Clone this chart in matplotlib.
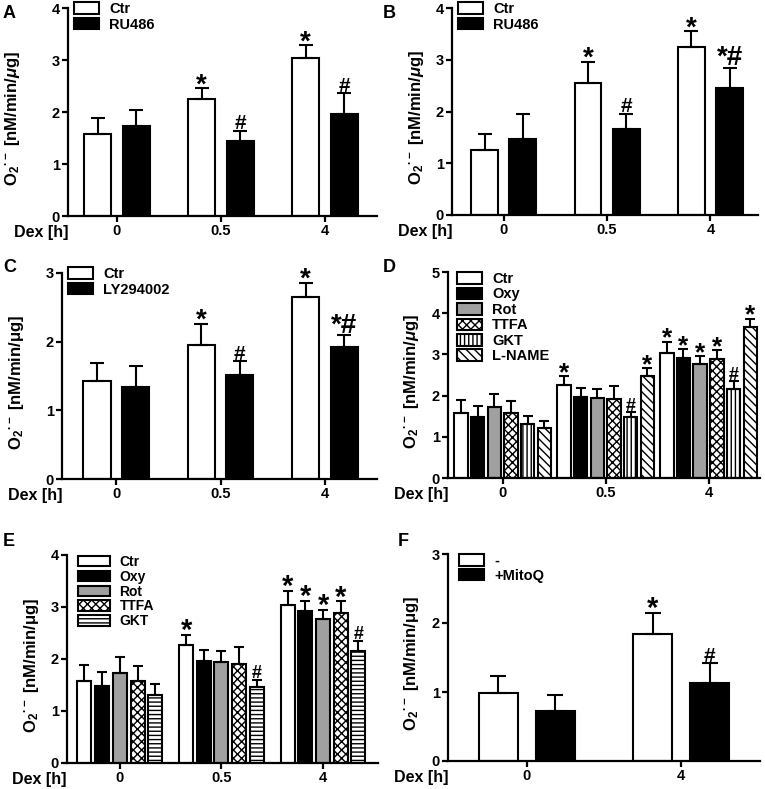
"""Superoxide production (O2.-) after Dex, six panels A-F."""
import matplotlib
matplotlib.use("Agg")
import matplotlib.pyplot as plt
from matplotlib.patches import Patch
import numpy as np

plt.rcParams.update({
    "font.family": "Liberation Sans", "font.weight": "bold", "font.size": 10,
    "axes.labelweight": "bold", "axes.linewidth": 1.6,
    "mathtext.fontset": "custom", "mathtext.rm": "Liberation Sans:bold",
    "mathtext.it": "Liberation Sans:bold:italic", "mathtext.bf": "Liberation Sans:bold",
    "hatch.linewidth": 1.0, "hatch.color": "black",
})

W, H = 765, 789
dex = ["0", "0.5", "4"]
dex_f = ["0", "4"]

# A: Ctr vs RU486
a_ctr = [1.57, 2.25, 3.03]
a_ctr_sem = [0.31, 0.21, 0.25]
a_ru = [1.73, 1.45, 1.96]
a_ru_sem = [0.30, 0.19, 0.40]
a_marks = [["", "*", "*"], ["", "#", "#"]]

# B: Ctr vs RU486
b_ctr = [1.25, 2.55, 3.24]
b_ctr_sem = [0.31, 0.41, 0.31]
b_ru = [1.46, 1.66, 2.45]
b_ru_sem = [0.50, 0.30, 0.40]
b_marks = [["", "*", "*"], ["", "#", "*#"]]

# C: Ctr vs LY294002
c_ctr = [1.43, 1.95, 2.65]
c_ctr_sem = [0.26, 0.31, 0.21]
c_ly = [1.34, 1.52, 1.92]
c_ly_sem = [0.30, 0.20, 0.18]
c_marks = [["", "*", "*"], ["", "#", "*#"]]

# D/E: inhibitors (E shows the same data without L-NAME)
d_names = ["Ctr", "Oxy", "Rot", "TTFA", "GKT", "L-NAME"]
d_mean = [[1.58, 2.26, 3.04],
          [1.48, 1.97, 2.92],
          [1.73, 1.94, 2.77],
          [1.58, 1.91, 2.89],
          [1.30, 1.47, 2.16],
          [1.22, 2.47, 3.67]]
d_sem = [[0.31, 0.21, 0.27],
         [0.27, 0.21, 0.20],
         [0.30, 0.21, 0.18],
         [0.29, 0.32, 0.22],
         [0.21, 0.13, 0.19],
         [0.17, 0.20, 0.20]]
d_marks = [["", "*", "*"], ["", "", "*"], ["", "", "*"], ["", "", "*"],
           ["", "#", "#"], ["", "*", "*"]]
e_names = d_names[:5]

# F: MitoQ
f_ctr = [0.99, 1.84]
f_ctr_sem = [0.24, 0.31]
f_mito = [0.72, 1.13]
f_mito_sem = [0.23, 0.29]
f_marks = [["", "*"], ["", "#"]]

fig = plt.figure(figsize=(W / 100, H / 100), dpi=100)


def make_ax(l, r, t, b):
    return fig.add_axes([l / W, 1 - b / H, (r - l) / W, (b - t) / H])


STYLE = {"Ctr": ("white", ""), "RU486": ("black", ""), "LY294002": ("black", ""),
         "Oxy": ("black", ""), "Rot": ("#a0a0a0", ""), "TTFA": ("white", "xxxx"),
         "GKT": ("white", "||||"), "GKT_E": ("white", "----"),
         "L-NAME": ("white", "\\\\\\\\"), "-": ("white", ""), "+MitoQ": ("black", "")}


def panel(ax, series, styles, labels, width, step, ticks, ymax, xlim, ylab, lab_x,
          capsize=5, star=20, hsize=15, leg_kw=None):
    n = len(series)
    x = np.arange(len(ticks))
    for i, (m, s, mk) in enumerate(series):
        off = (i - (n - 1) / 2) * step
        fc, hatch = STYLE[styles[i]]
        ax.bar(x + off, m, width, color=fc, edgecolor="black", linewidth=1.5,
               hatch=hatch, zorder=2)
        ax.errorbar(x + off, m, yerr=[np.zeros(len(m)), s], fmt="none", ecolor="black",
                    elinewidth=1.5, capsize=capsize, capthick=1.5, zorder=3)
        for xi, mi, si, t in zip(x + off, m, s, mk):
            if not t:
                continue
            if t == "#":
                fs, dy = hsize, 1
            elif t == "*":
                fs, dy = star, -3
            else:
                fs, dy = star, 1.5
            ax.annotate(t, (xi, mi + si), xytext=(0, dy), textcoords="offset points",
                        ha="center", va="baseline", fontsize=fs, fontweight="bold")
    ax.set_xlim(*xlim)
    ax.set_ylim(0, ymax)
    ax.set_yticks(range(ymax + 1))
    ax.set_xticks(x, ticks)
    ax.tick_params(direction="out", length=4, width=1.6, labelsize=10.5, pad=2)
    ax.spines[["top", "right"]].set_visible(False)
    ax.set_ylabel(ylab, fontsize=12)
    ax.yaxis.set_label_coords(lab_x, 0.47)
    ax.annotate("Dex [h]", (0, 0), xycoords="axes fraction", xytext=(0, -12),
                textcoords="offset points", ha="right", va="center", fontsize=11.5)
    handles = [Patch(facecolor=STYLE[s][0], hatch=STYLE[s][1], edgecolor="black",
                     linewidth=1.5) for s in styles]
    kw = dict(loc="upper left", bbox_to_anchor=(0.02, 1.03), frameon=False,
              handlelength=1.7, handleheight=0.85, handletextpad=0.7,
              labelspacing=0.12, borderaxespad=0, borderpad=0, fontsize=10.5)
    if leg_kw:
        kw.update(leg_kw)
    ax.legend(handles, labels, **kw)


ylab_it = r"O$_2$$^{·-}$ [nM/min/$\mu$g]"
ylab_up = r"O$_2$$^{·-}$ [nM/min/μg]"

axA = make_ax(68, 377, 8, 216)
panel(axA, [(a_ctr, a_ctr_sem, a_marks[0]), (a_ru, a_ru_sem, a_marks[1])],
      ["Ctr", "RU486"], ["Ctr", "RU486"], 0.26, 0.37, dex, 4, (-0.47, 2.5),
      ylab_it, -0.15)

axB = make_ax(452, 758, 8, 215)
panel(axB, [(b_ctr, b_ctr_sem, b_marks[0]), (b_ru, b_ru_sem, b_marks[1])],
      ["Ctr", "RU486"], ["Ctr", "RU486"], 0.26, 0.37, dex, 4, (-0.5, 2.46),
      ylab_it, -0.085)

axC = make_ax(62, 377, 273, 479)
panel(axC, [(c_ctr, c_ctr_sem, c_marks[0]), (c_ly, c_ly_sem, c_marks[1])],
      ["Ctr", "LY294002"], ["Ctr", "LY294002"], 0.26, 0.37, dex, 3, (-0.52, 2.5),
      ylab_up, -0.115)

axD = make_ax(448, 760, 272, 478)
panel(axD, [(d_mean[i], d_sem[i], d_marks[i]) for i in range(6)],
      d_names, d_names, 0.13, 0.162, dex, 5, (-0.53, 2.5), ylab_it, -0.085,
      capsize=3.5, star=19, hsize=13,
      leg_kw=dict(bbox_to_anchor=(0.03, 1.0), labelspacing=0.1))

axE = make_ax(67, 378, 555, 763)
panel(axE, [(d_mean[i], d_sem[i], d_marks[i]) for i in range(5)],
      ["Ctr", "Oxy", "Rot", "TTFA", "GKT_E"], e_names, 0.138, 0.174, dex, 4,
      (-0.52, 2.54), ylab_up, -0.085, capsize=3.5, star=21, hsize=13,
      leg_kw=dict(handlelength=2.3, handleheight=0.8, labelspacing=0.06,
                  fontsize=10, bbox_to_anchor=(0.035, 1.0)))

axF = make_ax(448, 760, 554, 761)
panel(axF, [(f_ctr, f_ctr_sem, f_marks[0]), (f_mito, f_mito_sem, f_marks[1])],
      ["-", "+MitoQ"], ["-", "+MitoQ"], 0.25, 0.37, dex_f, 3, (-0.51, 1.51),
      ylab_up, -0.085, capsize=5.5, star=21, hsize=15,
      leg_kw=dict(labelspacing=0.05, bbox_to_anchor=(0.035, 1.0)))

for letter, px, py in [("A", 3, 14), ("B", 383, 14), ("C", 3, 268), ("D", 383, 268),
                       ("E", 3, 541), ("F", 398, 541)]:
    fig.text(px / W, 1 - py / H, letter, fontsize=13, fontweight="bold", va="center")

fig.savefig("out.png", dpi=100)
